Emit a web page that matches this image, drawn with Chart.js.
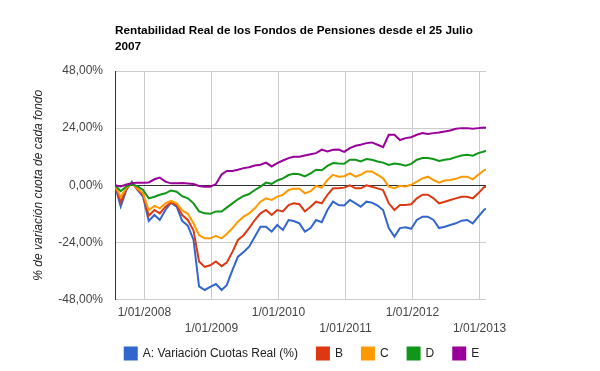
<!DOCTYPE html>
<html>
<head>
<meta charset="utf-8">
<script src="https://cdn.jsdelivr.net/npm/chart.js@4/dist/chart.umd.min.js"></script>
<style>
  html, body { margin: 0; padding: 0; background: #fff; }
  #wrap { width: 600px; height: 371px; }
</style>
</head>
<body>
<div id="wrap"><canvas id="chart"></canvas></div>
<script>
// Fechas (un punto por mes)
const dates = [
  "2007-07-25", "2007-08-25", "2007-09-25", "2007-10-25", "2007-11-25", "2007-12-25",
  "2008-01-25", "2008-02-25", "2008-03-25", "2008-04-25", "2008-05-25", "2008-06-25",
  "2008-07-25", "2008-08-25", "2008-09-25", "2008-10-25", "2008-11-25", "2008-12-25",
  "2009-01-25", "2009-02-25", "2009-03-25", "2009-04-25", "2009-05-25", "2009-06-25",
  "2009-07-25", "2009-08-25", "2009-09-25", "2009-10-25", "2009-11-25", "2009-12-25",
  "2010-01-25", "2010-02-25", "2010-03-25", "2010-04-25", "2010-05-25", "2010-06-25",
  "2010-07-25", "2010-08-25", "2010-09-25", "2010-10-25", "2010-11-25", "2010-12-25",
  "2011-01-25", "2011-02-25", "2011-03-25", "2011-04-25", "2011-05-25", "2011-06-25",
  "2011-07-25", "2011-08-25", "2011-09-25", "2011-10-25", "2011-11-25", "2011-12-25",
  "2012-01-25", "2012-02-25", "2012-03-25", "2012-04-25", "2012-05-25", "2012-06-25",
  "2012-07-25", "2012-08-25", "2012-09-25", "2012-10-25", "2012-11-25", "2012-12-25",
  "2013-01-25", "2013-02-05"
];

const fondoA = [
  0, -9, -2, 1.5, -2, -4.8,
  -15, -12.5, -14.6, -10.4, -7.3, -9,
  -15, -17, -23, -42.5, -44, -42.7,
  -41.5, -44, -42, -35.7, -30, -28,
  -25.8, -21.6, -17.4, -17.4, -19.5, -16.7,
  -18.8, -14.6, -15, -16, -19.5, -18,
  -14.6, -15.5, -10.4, -6.9, -8.3, -8.5,
  -6.2, -7.6, -9, -6.9, -7.3, -8.5,
  -10.4, -18, -21.6, -18, -17.7, -18.3,
  -14.6, -13.2, -13.2, -14.6, -18, -17.4,
  -16.7, -16, -14.9, -14.6, -16, -13.2,
  -10.4, -9.8
];
const fondoB = [
  0, -7, -1.5, 1, -1.8, -4,
  -12.8, -10.4, -11.8, -9, -7.3, -8.3,
  -12.5, -14.6, -19, -32, -34.3, -33.6,
  -32, -34, -32.5, -28, -23, -21,
  -18, -14.6, -11.8, -10.4, -12.5, -10.4,
  -11, -8.3, -7.6, -8, -11, -9,
  -6.9, -7.6, -4, -1.3, -1.3, -1,
  0, -1.3, -1.3, 0, -0.6, -1.3,
  -2, -7.6, -10.4, -8.3, -8.3, -8,
  -5.5, -4, -4, -5.5, -7.6, -6.9,
  -6.2, -5.5, -4.8, -4.8, -5.5, -3.4,
  -0.8, -0.6
];
const fondoC = [
  0, -5, -1, 0.8, -1.4, -3.4,
  -10.5, -8.7, -9.7, -7.6, -6.6, -7.6,
  -10.5, -12, -16, -21, -22.3, -22.3,
  -21.3, -22.3, -20.5, -18, -15.3, -13.2,
  -11.8, -9.7, -6.9, -5.5, -6.2, -4.8,
  -4, -2, -1.5, -1.5, -3.4, -2.5,
  -0.3, -1, 2.2, 4.4, 3.6, 3.8,
  5, 3.6, 4.4, 5.8, 5.8, 4.4,
  2.9, -0.6, -1.2, -0.2, -0.5, 0.2,
  1.5, 2.9, 3.6, 2.2, 1.1, 2,
  2.2, 2.7, 3.6, 3.6, 2.5, 4.4,
  6.3, 6.7
];
const fondoD = [
  0, -2.5, -0.5, 0.5, -0.5, -2,
  -5.5, -4.8, -4, -3.4, -2.2, -2.7,
  -4.6, -5.5, -7.6, -11, -11.8, -12,
  -11, -11, -9.4, -7.6, -5.9, -4.5,
  -3.7, -2, -0.6, 1.1, 0.6, 2,
  2.9, 4.3, 4.8, 4.6, 3.7, 5,
  6.5, 6.3, 8.1, 9.3, 9.1, 9,
  10.7, 10.7, 10, 11, 10.7, 10,
  9.5, 8.5, 9.1, 8.8, 8.2, 9,
  10.7, 11.4, 11.4, 11, 10.2, 10.7,
  11, 11.8, 12.5, 12.8, 12.4, 13.5,
  14.2, 14.5
];
const fondoE = [
  0, -0.5, 0.3, 0.8, 1.1, 1.1,
  1.2, 2.5, 3.2, 1.5, 0.8, 0.8,
  0.9, 0.7, 0.5, -0.3, -0.6, -0.6,
  0.5, 4.5, 6, 6, 6.5, 7.2,
  7.6, 8.3, 8.6, 9.5, 7.9, 9.3,
  10.4, 11.4, 12, 12, 12.5, 13,
  13.5, 15, 14.2, 14.9, 15, 14,
  15.6, 16.6, 17, 17.7, 18, 17,
  16, 21.2, 21.2, 19, 19.8, 20.2,
  21.2, 21.9, 21.5, 21.9, 22.2, 22.6,
  23, 23.7, 24, 24, 23.7, 24,
  24.3, 24.2
];

const seriesNames  = ["A: Variación Cuotas Real (%)", "B", "C", "D", "E"];
const seriesColors = ["#3366cc", "#dc3912", "#ff9900", "#109618", "#990099"];

const xTickDates  = ["2008-01-01", "2009-01-01", "2010-01-01", "2011-01-01", "2012-01-01", "2013-01-01"];
const xTickLabels = ["1/01/2008", "1/01/2009", "1/01/2010", "1/01/2011", "1/01/2012", "1/01/2013"];
const yTicks = [-48, -24, 0, 24, 48];

const titleLines = ["Rentabilidad Real de los Fondos de Pensiones desde el 25 Julio", "2007"];
const yTitle = "% de variación cuota de cada fondo";

const FONT = "Arial, 'Liberation Sans', sans-serif";

const toMs = d => Date.parse(d + "T00:00:00Z");
const xs = dates.map(toMs);

const datasets = [fondoA, fondoB, fondoC, fondoD, fondoE].map((vals, i) => ({
  label: seriesNames[i],
  data: vals.map((v, j) => ({ x: xs[j], y: v })),
  borderColor: seriesColors[i],
  backgroundColor: seriesColors[i],
  borderWidth: 2,
  pointRadius: 0,
  tension: 0,
  order: 5 - i,   // E on top, like the original
}));

// Title drawn left-aligned with the plot area
const titlePlugin = {
  id: "leftTitle",
  afterDraw(chart) {
    const { ctx, chartArea } = chart;
    ctx.save();
    ctx.font = "bold 11.75px " + FONT;
    ctx.fillStyle = "#000";
    ctx.textAlign = "left";
    ctx.textBaseline = "alphabetic";
    titleLines.forEach((t, i) => ctx.fillText(t, chartArea.left, 34 + i * 15.5));
    ctx.restore();
  }
};

// Nudge the legend: closer to the axis labels and centred like the original
const legendNudge = {
  id: "legendNudge",
  afterLayout(chart) {
    const lg = chart.legend;
    if (!lg) return;
    lg.top -= 14;
    lg.bottom = chart.height;
    lg.height = lg.bottom - lg.top;
    lg.left += 59; lg.right += 59;
  }
};

new Chart(document.getElementById("chart"), {
  type: "line",
  data: { datasets },
  plugins: [titlePlugin, legendNudge],
  options: {
    responsive: true,
    maintainAspectRatio: false,
    animation: false,
    layout: { padding: { top: 71, right: 114, left: 0, bottom: 0 } },
    plugins: {
      legend: {
        position: "bottom",
        reverse: true,
        maxHeight: 28.5,
        labels: {
          boxWidth: 12,
          boxHeight: 12,
          padding: 19,
          color: "#222",
          font: { family: FONT, size: 12 },
        },
      },
      tooltip: { enabled: false },
    },
    scales: {
      x: {
        type: "linear",
        min: xs[0],
        max: xs[xs.length - 1],
        afterBuildTicks: s => { s.ticks = xTickDates.map(d => ({ value: toMs(d) })); },
        ticks: {
          autoSkip: false,
          maxRotation: 0,
          minRotation: 0,
          padding: 5.5,
          color: "#444",
          font: { family: FONT, size: 12, lineHeight: 16 / 12 },
          callback: (v, i) => (i % 2 === 0 ? [xTickLabels[i]] : ["", xTickLabels[i]]),
        },
        grid: { color: "#ccc", drawTicks: false },
        border: { display: false },
      },
      y: {
        min: -48,
        max: 48,
        afterBuildTicks: s => { s.ticks = yTicks.map(v => ({ value: v })); },
        afterFit: s => { s.width = 115; },
        ticks: {
          padding: 12,
          color: "#444",
          font: { family: FONT, size: 12 },
          callback: v => v.toFixed(2).replace(".", ",") + "%",
        },
        grid: {
          color: c => (c.tick && c.tick.value === 0 ? "#333" : "#ccc"),
          drawTicks: false,
        },
        border: { display: true, color: "#333" },
        title: {
          display: true,
          text: yTitle,
          color: "#222",
          font: { family: FONT, size: 12, style: "italic" },
          padding: { top: 31, bottom: 0 },
        },
      },
    },
  },
});
</script>
</body>
</html>
